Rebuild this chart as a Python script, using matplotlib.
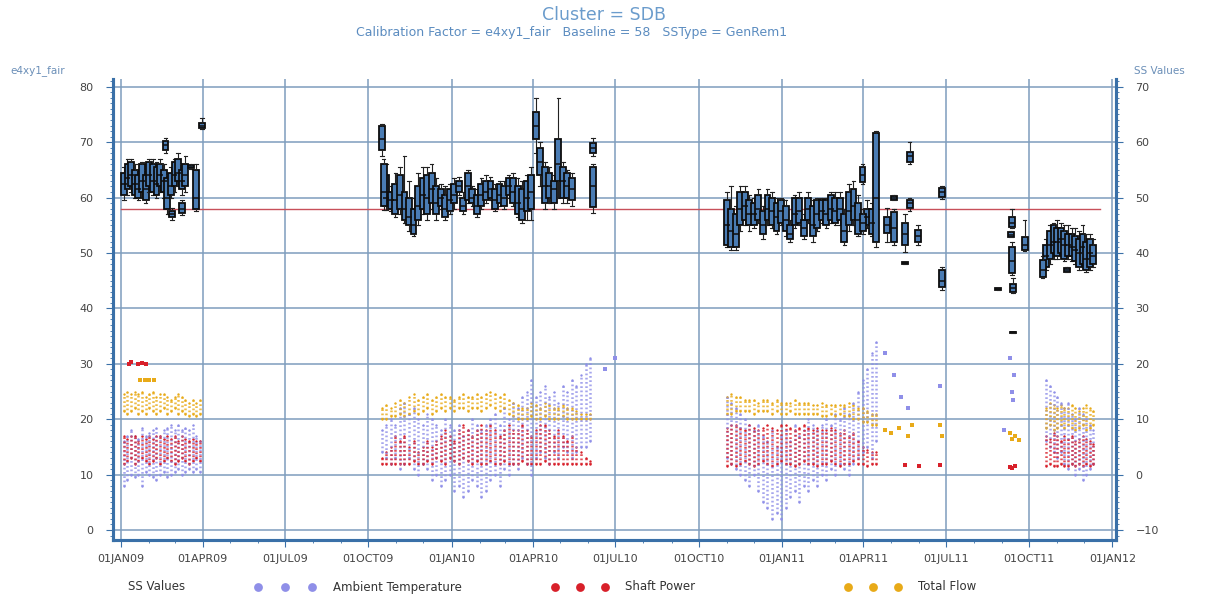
import pandas as pd
import matplotlib
matplotlib.use("Agg")
import matplotlib.pyplot as plt
import matplotlib.dates as mdates
from matplotlib.ticker import MultipleLocator, FuncFormatter

# ---- e4xy1_fair box stats: (q1, median, q3, whisker low, whisker high)
box_s1_start, box_s1_step = "2009-01-04", 4
box_s1 = [(60.5, 62.5, 64.5, 59.5, 65.5), (61.5, 63.5, 66.0, 60.5, 67.0), (62.0, 64.0, 66.5, 61.0, 67.0),
          (60.5, 62.5, 65.0, 60.0, 66.0), (60.0, 61.5, 64.0, 59.5, 65.0), (61.0, 63.0, 66.0, 60.0, 66.5),
          (59.5, 61.5, 64.0, 59.0, 65.0), (62.0, 64.0, 66.5, 61.0, 67.0), (61.0, 63.0, 66.0, 60.5, 67.0),
          (60.5, 62.5, 65.5, 60.0, 66.5), (62.0, 64.0, 66.0, 61.0, 67.0), (61.0, 63.0, 65.0, 60.0, 66.0),
          (58.0, 60.0, 63.5, 57.0, 64.0), (60.5, 62.0, 64.5, 60.0, 65.5), (62.0, 64.0, 66.5, 61.0, 67.0),
          (63.0, 64.5, 67.0, 62.0, 68.0), (61.5, 63.0, 65.0, 60.5, 66.0), (62.0, 64.0, 66.0, 61.0, 67.5)]

box_s2_start, box_s2_step = "2009-10-16", 5
box_s2 = [(68.6, 70.5, 73.0, 67.5, 73.2), (58.5, 60.0, 64.0, 57.8, 66.0), (58.0, 59.5, 61.0, 57.5, 62.0),
          (57.0, 59.5, 62.5, 56.5, 64.5), (58.0, 60.5, 64.0, 57.0, 65.5), (56.0, 58.0, 61.0, 55.5, 67.5),
          (55.0, 56.5, 60.0, 54.0, 63.0), (53.5, 55.0, 58.0, 53.0, 60.0), (56.0, 58.5, 62.0, 55.0, 64.5),
          (58.0, 60.5, 63.5, 57.0, 65.5), (57.0, 60.0, 64.0, 56.0, 65.5), (59.0, 61.5, 64.5, 58.0, 66.0),
          (57.0, 59.0, 62.0, 56.0, 63.5), (58.5, 60.0, 61.5, 58.0, 62.5), (56.5, 58.0, 60.5, 56.0, 62.0),
          (57.5, 59.5, 61.5, 57.0, 62.5), (59.0, 60.5, 62.5, 58.0, 63.5), (61.0, 62.0, 63.0, 60.5, 63.8),
          (57.5, 58.5, 60.0, 57.0, 61.0), (59.5, 62.0, 64.5, 59.0, 65.0), (59.0, 60.0, 61.5, 58.5, 62.0),
          (57.0, 58.5, 60.5, 56.5, 61.5), (58.5, 60.5, 62.5, 58.0, 63.5), (59.5, 61.0, 63.0, 59.0, 64.0),
          (60.0, 61.5, 63.0, 59.5, 63.8), (58.0, 59.5, 61.5, 57.5, 62.5), (59.0, 60.5, 62.5, 58.5, 63.0),
          (58.5, 60.0, 62.0, 58.0, 63.0), (60.5, 62.0, 63.5, 60.0, 64.0), (59.0, 61.0, 63.5, 58.5, 64.5),
          (57.0, 59.0, 62.0, 56.5, 63.5), (56.0, 58.0, 61.5, 55.5, 63.0), (57.5, 60.0, 63.0, 56.0, 64.0),
          (58.0, 61.0, 64.0, 56.0, 65.5), (70.5, 73.0, 75.5, 68.0, 78.0), (64.0, 66.5, 69.0, 62.0, 70.0),
          (59.0, 62.0, 65.5, 58.0, 66.5), (60.0, 62.0, 64.5, 59.0, 65.5), (59.0, 61.5, 63.0, 58.0, 64.0),
          (63.0, 66.0, 70.5, 60.0, 78.0), (60.0, 63.0, 65.5, 59.0, 66.5), (60.0, 62.0, 64.5, 59.0, 65.0),
          (59.5, 61.5, 63.5, 58.5, 64.5)]

box_s3_start, box_s3_step = "2010-11-01", 5
box_s3 = [(51.5, 55.0, 59.5, 51.0, 61.0), (51.0, 54.0, 58.0, 50.5, 62.0), (51.0, 53.5, 57.0, 50.5, 58.5),
          (55.0, 58.0, 61.0, 54.0, 62.0), (56.0, 58.5, 61.0, 55.0, 62.0), (55.0, 57.0, 59.5, 54.0, 60.5),
          (55.0, 57.0, 59.0, 54.5, 60.0), (56.0, 58.0, 60.5, 55.5, 61.5), (53.5, 55.0, 57.5, 52.5, 58.5),
          (56.0, 58.0, 60.5, 55.0, 61.5), (55.0, 57.5, 60.0, 54.5, 61.0), (54.0, 56.5, 59.0, 53.5, 60.0),
          (55.5, 57.5, 59.5, 55.0, 60.0), (54.0, 56.0, 58.5, 53.0, 59.5), (52.5, 53.5, 55.0, 52.0, 56.0),
          (55.0, 57.0, 60.0, 54.5, 60.5), (55.5, 57.5, 60.0, 55.0, 61.0), (53.0, 54.5, 56.0, 52.5, 57.0),
          (56.0, 58.0, 60.0, 55.5, 61.0), (53.0, 55.0, 58.5, 52.0, 59.5), (54.5, 57.0, 59.5, 54.0, 60.0),
          (56.0, 57.5, 59.5, 55.5, 60.0), (55.0, 57.0, 59.5, 54.5, 60.0), (56.0, 58.0, 60.5, 55.5, 61.0),
          (55.5, 57.5, 60.0, 55.0, 61.0), (56.0, 58.0, 60.0, 55.0, 61.0), (52.0, 54.0, 57.0, 51.5, 58.0),
          (55.0, 57.5, 61.0, 54.0, 62.5), (56.0, 58.5, 61.5, 55.0, 63.0), (53.5, 56.0, 59.0, 53.0, 60.5),
          (62.8, 64.0, 65.5, 62.5, 66.0), (55.0, 56.5, 58.0, 54.5, 59.5), (53.5, 55.5, 58.0, 53.0, 59.0),
          (52.0, 60.0, 71.7, 51.0, 72.0)]

box_s4_start, box_s4_step = "2011-10-20", 4
box_s4 = [(47.5, 49.5, 51.5, 47.0, 52.5), (49.0, 51.5, 54.0, 48.0, 55.0), (50.0, 52.0, 55.0, 49.0, 55.5),
          (49.5, 52.0, 54.5, 49.0, 56.0), (50.0, 52.5, 54.5, 49.5, 55.5), (49.0, 51.5, 54.0, 48.5, 55.0),
          (49.5, 51.5, 53.5, 49.0, 55.0), (49.5, 51.0, 53.5, 48.5, 54.5), (48.5, 50.5, 53.0, 48.0, 54.5),
          (47.5, 50.0, 52.5, 47.0, 54.0), (48.0, 51.0, 53.5, 47.5, 55.0), (47.0, 49.0, 52.0, 46.5, 53.5),
          (47.5, 50.0, 52.5, 47.0, 53.5), (48.0, 49.5, 51.5, 47.5, 52.5)]

# isolated boxes: (date, q1, median, q3, whisker low, whisker high)
box_extra = [("2009-02-19", 68.5, 69.5, 70.2, 68.0, 70.8), ("2009-02-26", 56.5, 57.0, 57.6, 56.0, 58.2),
             ("2009-03-09", 57.2, 58.0, 59.0, 56.8, 59.6), ("2009-03-19", 65.3, 65.6, 65.9, 65.2, 66.0),
             ("2009-03-25", 58.0, 60.0, 65.0, 57.5, 66.0), ("2009-03-31", 72.6, 73.0, 73.5, 72.3, 74.4),
             ("2009-10-18", 58.5, 61.0, 66.0, 57.8, 67.0), ("2010-06-06", 58.3, 62.0, 65.5, 57.2, 66.0),
             ("2010-06-06", 68.0, 69.0, 69.8, 67.5, 70.8), ("2011-04-01", 54.0, 55.5, 57.0, 53.5, 58.0),
             ("2011-04-27", 53.6, 55.0, 56.5, 52.0, 58.2), ("2011-05-05", 52.0, 54.5, 57.4, 51.5, 58.0),
             ("2011-05-05", 59.6, 60.0, 60.2, 59.5, 60.4), ("2011-05-17", 51.4, 53.5, 55.4, 50.2, 57.0),
             ("2011-05-17", 48.1, 48.2, 48.3, 48.1, 48.3), ("2011-05-22", 66.4, 67.5, 68.2, 66.0, 70.0),
             ("2011-05-22", 58.1, 59.0, 59.6, 57.5, 60.0), ("2011-05-31", 52.0, 53.0, 54.2, 51.5, 55.0),
             ("2011-06-27", 60.1, 61.0, 61.7, 59.8, 62.0), ("2011-06-27", 43.9, 45.0, 47.0, 43.3, 47.5),
             ("2011-08-28", 43.4, 43.5, 43.6, 43.4, 43.6), ("2011-09-12", 54.7, 55.5, 56.5, 54.5, 58.0),
             ("2011-09-11", 52.9, 53.3, 53.8, 52.8, 54.0), ("2011-09-12", 46.4, 48.5, 51.0, 46.0, 52.0),
             ("2011-09-13", 43.0, 43.7, 44.4, 42.8, 45.5), ("2011-09-13", 35.6, 35.7, 35.8, 35.6, 35.8),
             ("2011-09-26", 50.5, 51.5, 52.9, 50.3, 56.0), ("2011-10-16", 45.7, 47.0, 48.7, 45.5, 49.5),
             ("2011-11-12", 46.6, 47.0, 47.3, 46.5, 47.4)]

baseline = 58
baseline_span = ("2009-01-01", "2011-12-18")

# ---- SS values (right axis), low / high per sample date, segment dates as for boxes
seg_starts = ["2009-01-04", "2009-10-16", "2010-11-01", "2011-10-20"]
seg_steps = [4, 5, 5, 4]

flow_lo = [[11.5, 11, 11.5, 12, 11, 11.5, 11, 12, 11.5, 11, 11.5, 12, 11, 11.5, 12, 11, 11.5, 11, 10.5, 11, 10.5, 11],
           [10, 10, 10.5, 10.5, 11, 10.5, 11, 11.5, 11, 11.5, 12, 11, 11.5, 12, 11.5, 12, 11.5, 12, 12, 11.5, 12, 12, 11.5, 12,
            12.5, 12, 11.5, 12, 11, 10.5, 10, 10, 10, 10.5, 10, 10, 10.5, 10, 10, 10, 10.5, 10, 10, 10, 10, 10, 10],
           [11, 11, 11.5, 11.5, 11.5, 11.5, 11, 11.5, 11.5, 11.5, 11, 11.5, 11, 11, 11.5, 11, 11, 11, 11, 11, 11, 10.5,
            10.5, 11, 10.5, 11, 10.5, 10.5, 10, 10, 9.5, 9.5, 9, 9],
           [8.5, 9, 8, 8.5, 9, 8.5, 9, 8.5, 8, 8.5, 9, 8, 8.5, 9]]
flow_hi = [[14.5, 15, 14.5, 15, 14.5, 15, 14, 14.5, 15, 14, 14.5, 14.5, 14, 13.5, 14, 14.5, 14, 13.5, 13, 13.5, 13, 13.5],
           [12, 12.5, 12, 13, 13.5, 13, 14, 14.5, 13.5, 14, 14.5, 13.5, 14, 14.5, 14, 14, 13.5, 14, 14.5, 14, 14, 14.5, 14,
            14.5, 15, 14.5, 14, 14.5, 13.5, 13, 12.5, 12, 12, 13, 12.5, 12, 13, 12.5, 12, 12, 12.5, 12, 12, 11.5, 11, 11, 11],
           [14, 14.5, 14, 14, 13.5, 13.5, 13.5, 13, 13.5, 13.5, 13, 13.5, 13, 13, 13, 13.5, 13, 13, 13, 12.5, 12.5, 13, 12.5,
            12.5, 12.5, 12.5, 12.5, 13, 12.5, 12, 12, 11.5, 11, 11],
           [12, 13, 12.5, 12, 12.5, 12, 12, 12.5, 12, 11.5, 12, 12.5, 12, 11.5]]

power_lo = [[2, 2.5, 3, 2, 2.5, 3, 2.5, 2, 2.5, 3, 2, 2.5, 3, 2.5, 2, 2.5, 3, 2.5, 2, 2.5, 3, 2.5],
            [2, 2, 2, 2, 2, 2, 2, 2.5, 2, 2, 2.5, 2, 3, 2.5, 2, 3, 2.5, 2, 3, 2.5, 2, 2.5, 2, 2, 2.5, 2, 2, 2.5, 2, 2, 2,
             2.5, 2, 2, 2, 2, 2.5, 2, 2, 2, 2, 2, 2, 2, 2, 2, 2],
            [1.5, 2, 1.5, 2, 2.5, 2, 1.5, 2, 2.5, 2, 1.5, 2, 2.5, 2, 2, 1.5, 2, 2.5, 2, 2, 1.5, 2, 2, 2.5, 2, 1.5, 2, 2,
             2.5, 2, 2, 1.5, 2, 2],
            [1.5, 2, 1.5, 1.5, 2, 1.5, 1.5, 2, 1.5, 2, 1.5, 2, 1.5, 2]]
power_hi = [[7, 6.5, 7, 7, 6, 7, 6.5, 7, 6.5, 7, 7, 6.5, 7, 6.5, 7, 6, 7, 6.5, 6, 6.5, 6, 6],
            [3, 4, 5, 7, 6, 7, 5, 6, 4, 5, 6, 5, 6, 7, 8, 7, 6, 8, 9, 8, 7, 8, 9, 8, 9, 8, 7, 8, 9, 8, 8, 9, 8, 7, 8, 9, 9,
             8, 7, 8, 7, 6, 7, 5, 4, 3, 2.5],
            [8.5, 9, 9, 8.5, 8, 9, 8.5, 8, 8.5, 9, 8.5, 8, 9, 9, 8.5, 8, 8.5, 9, 8.5, 8, 8.5, 8, 8, 8.5, 8, 7.5, 8, 7, 7.5,
             6, 5, 4.5, 4, 4],
            [7, 6.5, 7.5, 7, 6, 7, 6.5, 7, 6, 6.5, 7, 6.5, 6, 5.5]]

temp_lo = [[-2, -1, 0, -0.5, 0, -2, 0.5, 0, -0.5, -1, 0, 0.5, -0.5, 0, 0.5, 1, 0, 0.5, 1, 0.5, 1, 0.5],
           [4, 3, 2, 3, 1, 2, 3, 1, 0, 2, 1, -1, 0, -2, -1, 0, -3, -2, -4, -3, -1, -2, -4, -3, -1, 0, -2, 1, 0, 2, 1, 3,
            2, 0, 3, 4, 3, 2, 4, 3, 5, 4, 3, 4, 5, 5, 6],
           [3, 2, 1, 0, -1, -2, 0, -3, -5, -6, -8, -7, -8, -6, -4, -3, -5, -2, -3, -1, -2, 0, -1, 1, 0, 2, 1, 0, 2, 3, 4,
            5, 3, 6],
           [6, 5, 4, 3, 4, 2, 1, 2, 0, 1, -1, 0, 1, 2]]
temp_hi = [[6, 7, 8, 7, 6.5, 8.5, 7, 7.5, 8, 8.5, 7, 8, 8.5, 9, 8, 9, 8, 8.5, 8, 9, 7, 6],
           [8, 9, 10, 9, 12, 13, 11, 12, 10, 9, 11, 10, 9, 8, 10, 9, 8, 9, 7, 8, 10, 9, 8, 9, 10, 11, 9, 12, 10, 13, 12,
            14, 15, 17, 14, 15, 16, 14, 15, 13, 16, 15, 17, 16, 18, 20, 21],
           [14, 13, 12, 11, 10, 9, 8, 9, 7, 6, 8, 5, 7, 8, 6, 9, 7, 8, 10, 9, 8, 9, 10, 9, 11, 10, 12, 11, 13, 15, 17, 19,
            22, 24],
           [17, 16, 15, 14, 13, 12, 13, 11, 10, 12, 11, 10, 9, 8]]

# isolated SS points: (date, value)
flow_pts = [("2009-01-22", 17), ("2009-01-27", 17), ("2009-02-01", 17), ("2009-02-06", 17),
            ("2011-04-25", 8), ("2011-05-01", 7.5), ("2011-05-10", 8.5), ("2011-05-20", 7), ("2011-05-25", 9),
            ("2011-06-25", 9), ("2011-06-27", 7), ("2011-09-10", 7.5), ("2011-09-12", 6.5), ("2011-09-15", 7),
            ("2011-09-20", 6.2)]
power_pts = [("2009-01-10", 20), ("2009-01-12", 20.3), ("2009-01-20", 20), ("2009-01-24", 20.2),
             ("2009-01-28", 20), ("2011-05-17", 1.7), ("2011-06-01", 1.5), ("2011-06-25", 1.7),
             ("2011-09-10", 1.4), ("2011-09-12", 1.2), ("2011-09-15", 1.5)]
temp_pts = [("2010-06-20", 19), ("2010-07-01", 21), ("2011-04-25", 22), ("2011-05-05", 18), ("2011-05-12", 14),
            ("2011-05-20", 12), ("2011-06-25", 16), ("2011-09-10", 21), ("2011-09-12", 15), ("2011-09-13", 13.5),
            ("2011-09-14", 18), ("2011-09-03", 8)]

box_face = "#4a7cb4"
c_temp, c_power, c_flow = "#8f8fe8", "#d8202a", "#e8aa18"
grid_c = "#7f9dbd"
spine_c = "#3a70a8"

fig = plt.figure(figsize=(12.09, 5.98), dpi=100)
ax = fig.add_axes([113 / 1209, 58 / 598, 1003 / 1209, 461 / 598])
ax2 = ax.twinx()


def seg_dates(start, step, n):
    return pd.date_range(start, periods=n, freq=f"{step}D")


def box_stats(rows):
    return [dict(q1=r[0], med=r[1], q3=r[2], whislo=r[3], whishi=r[4], fliers=[]) for r in rows]


box_props = dict(patch_artist=True, showfliers=False, manage_ticks=False, widths=6.5, capwidths=4,
                 boxprops=dict(facecolor=box_face, edgecolor="#0d0d0d", lw=1.3),
                 whiskerprops=dict(color="#222222", lw=0.8), capprops=dict(color="#222222", lw=0.8),
                 medianprops=dict(color="#0d0d0d", lw=1.1))

for start, step, rows in [(box_s1_start, box_s1_step, box_s1), (box_s2_start, box_s2_step, box_s2),
                          (box_s3_start, box_s3_step, box_s3), (box_s4_start, box_s4_step, box_s4)]:
    pos = mdates.date2num(seg_dates(start, step, len(rows)))
    ax.bxp(box_stats(rows), positions=pos, **box_props)

pos = mdates.date2num(pd.to_datetime([r[0] for r in box_extra]))
ax.bxp(box_stats([r[1:] for r in box_extra]), positions=pos, **box_props)

ax.plot(pd.to_datetime(list(baseline_span)), [baseline, baseline], color="#c8505a", lw=1.0, zorder=1)

# SS values: dotted vertical streaks
dot_style = (0, (0.7, 1.0))
for lo_all, hi_all, col in [(temp_lo, temp_hi, c_temp), (power_lo, power_hi, c_power), (flow_lo, flow_hi, c_flow)]:
    for start, step, lo, hi in zip(seg_starts, seg_steps, lo_all, hi_all):
        d = seg_dates(start, step, len(lo))
        ax2.vlines(d, lo, hi, colors=col, lw=1.8, linestyles=[dot_style], alpha=0.8)
        ax2.scatter(d, lo, s=3, color=col, lw=0)
        ax2.scatter(d, hi, s=3, color=col, lw=0)
for pts, col in [(temp_pts, c_temp), (power_pts, c_power), (flow_pts, c_flow)]:
    ax2.scatter(pd.to_datetime([p[0] for p in pts]), [p[1] for p in pts], s=5, color=col, lw=0, marker="s")

# axes ranges
ax.set_xlim(pd.Timestamp("2008-12-23"), pd.Timestamp("2012-01-05"))
ax.set_ylim(-1.8, 81.4)
ax2.set_ylim(-11.8, 71.4)

ax.xaxis.set_major_locator(mdates.MonthLocator(bymonth=[1, 4, 7, 10]))
ax.xaxis.set_minor_locator(mdates.MonthLocator())
ax.xaxis.set_major_formatter(FuncFormatter(lambda v, p: mdates.num2date(v).strftime("%d%b%y").upper()))
ax.yaxis.set_major_locator(MultipleLocator(10))
ax.yaxis.set_minor_locator(MultipleLocator(1))
ax2.yaxis.set_major_locator(MultipleLocator(10))
ax2.yaxis.set_minor_locator(MultipleLocator(1))

ax.set_axisbelow(True)
ax.grid(True, which="major", color=grid_c, lw=1.1)
for a in (ax, ax2):
    a.tick_params(which="major", direction="out", length=5, color=spine_c, labelsize=8, labelcolor="#444444")
    a.tick_params(which="minor", direction="out", length=2.5, color=spine_c)
    a.spines["top"].set_visible(False)
    for s in ("left", "right", "bottom"):
        a.spines[s].set_color(spine_c)
        a.spines[s].set_linewidth(2.2)
ax.tick_params(axis="y", which="major", pad=9)
ax2.tick_params(axis="y", which="major", pad=9)
ax.tick_params(axis="x", which="major", pad=5)

fig.text(0.5, 0.975, "Cluster = SDB", ha="center", va="center", fontsize=12.5, color="#6b9ccc")
fig.text(0.4725, 0.945, "Calibration Factor = e4xy1_fair   Baseline = 58   SSType = GenRem1",
         ha="center", va="center", fontsize=9, color="#5b8cc0")
fig.text(10 / 1209, 1 - 71 / 598, "e4xy1_fair", ha="left", va="center", fontsize=7.5, color="#6b8fb8")
fig.text(1134 / 1209, 1 - 71 / 598, "SS Values", ha="left", va="center", fontsize=7.5, color="#6b8fb8")

# legend row
ly = 1 - 587 / 598
fig.text(128 / 1209, ly, "SS Values", ha="left", va="center", fontsize=8.5, color="#333333")
for xs, col, label, tx in [((258, 285, 312), c_temp, "Ambient Temperature", 333),
                           ((555, 580, 605), c_power, "Shaft Power", 625),
                           ((848, 873, 898), c_flow, "Total Flow", 918)]:
    ax.scatter([x / 1209 for x in xs], [ly] * 3, s=40, color=col, transform=fig.transFigure, clip_on=False, lw=0)
    fig.text(tx / 1209, ly, label, ha="left", va="center", fontsize=8.5, color="#333333")

fig.savefig("out.png", dpi=100)
